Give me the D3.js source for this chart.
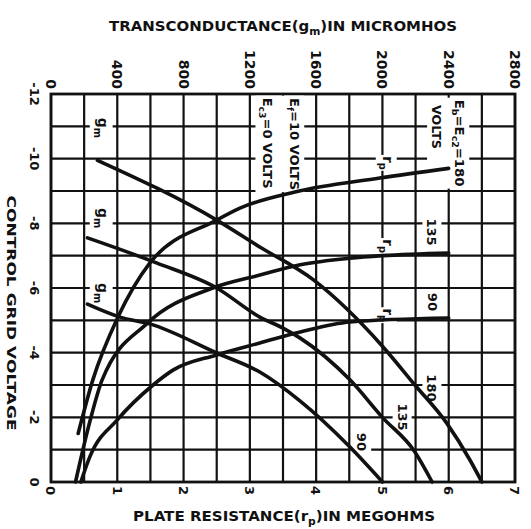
<!DOCTYPE html>
<html>
<head>
<meta charset="utf-8">
<script src="https://cdn.jsdelivr.net/npm/d3@7/dist/d3.min.js"></script>
<style>
body { margin: 0; background: #fff; }
text { font-family: "DejaVu Sans", sans-serif; font-weight: bold; fill: #111; }
</style>
</head>
<body>
<svg id="chart" width="531" height="529"></svg>
<script>
// plate resistance rp (megohms) against control grid volts
var rp180 = [[0.41,-1.5],[0.63,-3.15],[1.01,-5.1],[1.49,-6.77],[2.5,-8.1],[2.85,-8.47],[3.68,-8.97],[4.96,-9.4],[6.0,-9.7]];
var rp135 = [[0.37,0],[0.59,-1.9],[0.77,-3.15],[1.46,-4.92],[2.44,-6.0],[3.15,-6.4],[3.76,-6.72],[4.5,-6.92],[5.0,-7.0],[6.0,-7.08]];
var rp90  = [[0.45,0],[0.59,-0.8],[1.0,-1.92],[1.54,-3.0],[1.84,-3.46],[2.5,-3.93],[3.15,-4.3],[3.76,-4.64],[4.51,-4.95],[6.0,-5.07]];

// transconductance gm (micromhos) against control grid volts
var gm180 = [[280,-9.95],[1000,-8.1],[1260,-7.27],[1584,-6.25],[2000,-4.2],[2196,-3.0],[2388,-1.82],[2528,-0.68],[2600,0]];
var gm135 = [[220,-7.55],[640,-6.77],[1000,-6.0],[1260,-5.1],[1400,-4.76],[1504,-4.45],[1804,-3.16],[2000,-2.0],[2196,-0.93],[2300,0]];
var gm90  = [[220,-5.5],[416,-5.1],[596,-4.89],[1000,-3.99],[1260,-3.4],[1504,-2.5],[1804,-1.08],[2000,0]];

var rpTicks = [0,1,2,3,4,5,6,7];
var gmTicks = [0,400,800,1200,1600,2000,2400,2800];
var voltTicks = [-12,-10,-8,-6,-4,-2,0];

var svg = d3.select("#chart");

var x = d3.scaleLinear().domain([0,7]).range([51,515]);
var xg = d3.scaleLinear().domain([0,2800]).range([51,515]);
var y = d3.scaleLinear().domain([-12,0]).range([94,482]);

// grid
var grid = svg.append("g");
d3.range(0, 7.01, 0.5).forEach(function(r){
	grid.append("line").attr("x1", x(r)).attr("x2", x(r)).attr("y1", y(-12)).attr("y2", y(0))
		.attr("stroke", "#111").attr("stroke-width", 2.2);
});
d3.range(-12, 0.01, 1).forEach(function(v){
	grid.append("line").attr("x1", x(0)).attr("x2", x(7)).attr("y1", y(v)).attr("y2", y(v))
		.attr("stroke", "#111").attr("stroke-width", 2.2);
});
grid.append("rect").attr("x", x(0)).attr("y", y(-12)).attr("width", x(7)-x(0)).attr("height", y(0)-y(-12))
	.attr("fill", "none").attr("stroke", "#111").attr("stroke-width", 2.8);

var bgLayer = svg.append("g");
var labelLayer = svg.append("g");

// rotated text, reading top to bottom; parts may carry subscripts
function vlabel(parent, cx, cy, parts, size, anchor, len){
	var g = parent.append("g").attr("transform", "translate(" + cx + "," + cy + ") rotate(90)");
	var t = g.append("text").attr("text-anchor", anchor || "middle").attr("dy", (size*0.36) + "px")
		.style("font-size", size + "px");
	var shifted = false;
	parts.forEach(function(p){
		var s = t.append("tspan").text(p[0]);
		if (p[1]) {
			s.style("font-size", (size*0.7) + "px");
			if (!shifted) { s.attr("dy", (size*0.28) + "px"); shifted = true; }
		} else if (shifted) {
			s.attr("dy", (-size*0.28) + "px"); shifted = false;
		}
	});
	if (len) t.attr("textLength", len).attr("lengthAdjust", "spacingAndGlyphs");
	return g;
}

// white patch behind a group of rotated labels
function blank(groups, pad){
	var x0 = 1e9, x1 = -1e9, y0 = 1e9, y1 = -1e9;
	groups.forEach(function(g){
		var r = g.node().getBoundingClientRect();
		x0 = Math.min(x0, r.left); x1 = Math.max(x1, r.right);
		y0 = Math.min(y0, r.top); y1 = Math.max(y1, r.bottom);
	});
	bgLayer.append("rect").attr("x", x0-pad).attr("y", y0-pad)
		.attr("width", x1-x0+2*pad).attr("height", y1-y0+2*pad).attr("fill", "#fff");
}

// axis tick labels
voltTicks.forEach(function(v){
	vlabel(labelLayer, 35, y(v), [[String(v)]], 13);
});
rpTicks.forEach(function(r){
	vlabel(labelLayer, x(r), 486, [[String(r)]], 13, "start");
});
gmTicks.forEach(function(g){
	vlabel(labelLayer, xg(g), 89, [[String(g)]], 14, "end");
});

// axis titles
svg.append("text").attr("x", 283).attr("y", 31).attr("text-anchor", "middle")
	.attr("textLength", 348).attr("lengthAdjust", "spacingAndGlyphs").style("font-size", "14px")
	.call(function(t){
		t.append("tspan").text("TRANSCONDUCTANCE(g");
		t.append("tspan").text("m").style("font-size", "10px").attr("dy", "4px");
		t.append("tspan").text(")IN MICROMHOS").attr("dy", "-4px");
	});
svg.append("text").attr("x", 284).attr("y", 521).attr("text-anchor", "middle")
	.attr("textLength", 302).attr("lengthAdjust", "spacingAndGlyphs").style("font-size", "14px")
	.call(function(t){
		t.append("tspan").text("PLATE RESISTANCE(r");
		t.append("tspan").text("p").style("font-size", "10px").attr("dy", "4px");
		t.append("tspan").text(")IN MEGOHMS").attr("dy", "-4px");
	});
vlabel(svg, 12, 313, [["CONTROL  GRID  VOLTAGE"]], 13, "middle", 235);

// annotations inside the plot
var a1 = vlabel(labelLayer, x(6.17), y(-10.48), [["E"],["b",1],["=E"],["c2",1],["=180"]], 13, "middle", 87);
var a2 = vlabel(labelLayer, x(5.82), y(-10.98), [["VOLTS"]], 13, "middle", 44);
blank([a1, a2], 2);
var a3 = vlabel(labelLayer, x(3.68), y(-10.45), [["E"],["f",1],["=10 VOLTS"]], 13, "middle", 92);
var a4 = vlabel(labelLayer, x(3.27), y(-10.48), [["E"],["c3",1],["=0 VOLTS"]], 13, "middle", 91);
blank([a3, a4], 2);

[-10.95, -8.16, -5.84].forEach(function(v){
	blank([vlabel(labelLayer, x(0.78), y(v), [["g"],["m",1]], 14)], 2);
});
[-9.87, -7.30, -5.16].forEach(function(v){
	blank([vlabel(labelLayer, x(5.08), y(v), [["r"],["p",1]], 14)], 1);
});
blank([vlabel(labelLayer, x(5.75), y(-7.73), [["135"]], 13)], 2);
blank([vlabel(labelLayer, x(5.76), y(-5.57), [["90"]], 13)], 2);
blank([vlabel(labelLayer, x(5.75), y(-2.91), [["180"]], 13)], 2);
blank([vlabel(labelLayer, x(5.30), y(-2.01), [["135"]], 13)], 2);
blank([vlabel(labelLayer, x(4.69), y(-1.24), [["90"]], 13)], 2);

// curves
var rpLine = d3.line().x(function(d){ return x(d[0]); }).y(function(d){ return y(d[1]); }).curve(d3.curveMonotoneX);
var gmLine = d3.line().x(function(d){ return xg(d[0]); }).y(function(d){ return y(d[1]); }).curve(d3.curveMonotoneX);
var curves = svg.append("g").attr("fill", "none").attr("stroke", "#111").attr("stroke-width", 3.6).attr("stroke-linecap", "round");
[rp180, rp135, rp90].forEach(function(d){ curves.append("path").datum(d).attr("d", rpLine); });
[gm180, gm135, gm90].forEach(function(d){ curves.append("path").datum(d).attr("d", gmLine); });
</script>
</body>
</html>
